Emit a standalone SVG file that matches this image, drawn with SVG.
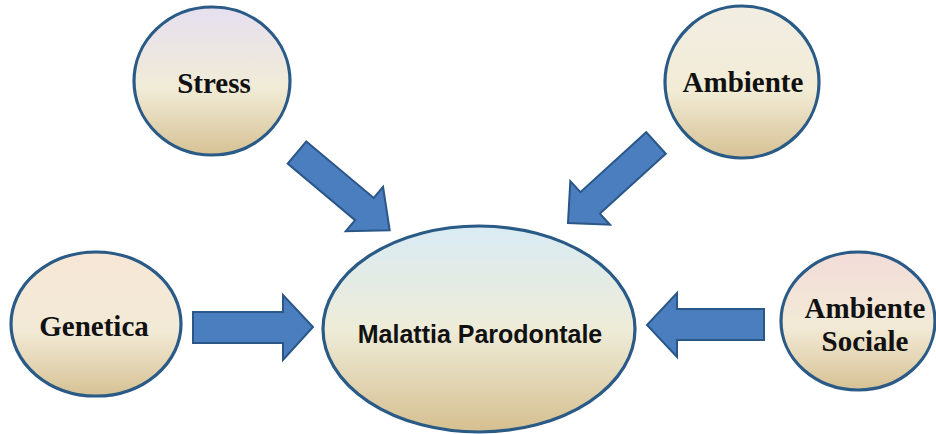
<svg xmlns="http://www.w3.org/2000/svg" width="936" height="434" viewBox="0 0 936 434">
<defs>
<linearGradient id="gStress" x1="0" y1="0" x2="0" y2="1">
<stop offset="0" stop-color="#e6dff0"/><stop offset="0.55" stop-color="#f1ecd7"/><stop offset="1" stop-color="#d6c194"/>
</linearGradient>
<linearGradient id="gAmb" x1="0" y1="0" x2="0" y2="1">
<stop offset="0" stop-color="#f1ede2"/><stop offset="0.55" stop-color="#f2ecd6"/><stop offset="1" stop-color="#d6c194"/>
</linearGradient>
<linearGradient id="gGen" x1="0" y1="0" x2="0" y2="1">
<stop offset="0" stop-color="#f7e6d6"/><stop offset="0.55" stop-color="#f2ead6"/><stop offset="1" stop-color="#d6c194"/>
</linearGradient>
<linearGradient id="gSoc" x1="0" y1="0" x2="0" y2="1">
<stop offset="0" stop-color="#f2dcd8"/><stop offset="0.55" stop-color="#f2ead6"/><stop offset="1" stop-color="#d6c194"/>
</linearGradient>
<linearGradient id="gMain" x1="0" y1="0" x2="0" y2="1">
<stop offset="0" stop-color="#d9ebf4"/><stop offset="0.5" stop-color="#eeecd8"/><stop offset="1" stop-color="#d5bf90"/>
</linearGradient>
<style>
.node{stroke:#2a5a86;stroke-width:3.2}
.lbl{font-family:"Liberation Serif","Times New Roman",serif;font-weight:bold;font-size:29px;fill:#111;text-anchor:middle}
.main{font-family:"Liberation Sans",Arial,sans-serif;font-weight:bold;font-size:25px;fill:#111;text-anchor:middle}
.arrow{fill:#4a7ebe;stroke:#2a5688;stroke-width:2;stroke-linejoin:miter}
</style>
</defs>
<rect width="936" height="434" fill="#ffffff"/>
<g id="connectors">
<path class="arrow" transform="translate(297,152.5) rotate(40)" d="M0,-14.5 H88 V-29 L121,0 L88,29 V14.5 H0 Z"/>
<path class="arrow" transform="translate(656,143) rotate(137.7)" d="M0,-14.5 H89 V-29.5 L119,0 L89,29.5 V14.5 H0 Z"/>
<path class="arrow" d="M193,312 H283 V295 L313,327 L283,360 V343 H193 Z"/>
<path class="arrow" d="M764,309 H677 V293 L647,325 L677,357 V340 H764 Z"/>
</g>
<g id="stress">
<ellipse class="node" cx="212" cy="81" rx="78" ry="74" fill="url(#gStress)"/>
<text class="lbl" x="214" y="93">Stress</text>
</g>
<g id="ambiente">
<ellipse class="node" cx="742" cy="82" rx="77" ry="76" fill="url(#gAmb)"/>
<text class="lbl" x="743" y="92">Ambiente</text>
</g>
<g id="genetica">
<ellipse class="node" cx="96" cy="324" rx="85" ry="72" fill="url(#gGen)"/>
<text class="lbl" x="94" y="336">Genetica</text>
</g>
<g id="ambiente-sociale">
<ellipse class="node" cx="858" cy="321" rx="77" ry="69" fill="url(#gSoc)"/>
<text class="lbl" x="865" y="318">Ambiente</text>
<text class="lbl" x="865" y="351">Sociale</text>
</g>
<g id="malattia">
<ellipse class="node" cx="479" cy="329" rx="156" ry="103" fill="url(#gMain)"/>
<text class="main" x="480" y="343">Malattia Parodontale</text>
</g>
</svg>
